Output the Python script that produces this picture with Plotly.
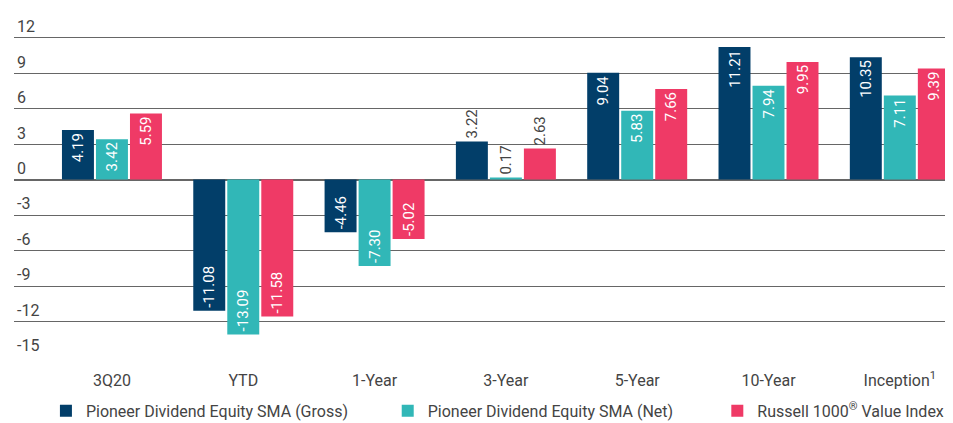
import plotly.graph_objects as go

categories = ["3Q20", "YTD", "1-Year", "3-Year", "5-Year", "10-Year", "Inception<sup>1</sup>"]
gross = [4.19, -11.08, -4.46, 3.22, 9.04, 11.21, 10.35]
net = [3.42, -13.09, -7.30, 0.17, 5.83, 7.94, 7.11]
russell = [5.59, -11.58, -5.02, 2.63, 7.66, 9.95, 9.39]
series_names = ["Pioneer Dividend Equity SMA (Gross)", "Pioneer Dividend Equity SMA (Net)",
                "Russell 1000<sup>®</sup> Value Index"]
colors = ["#023e69", "#31b7b7", "#ef3a66"]
ytick_vals = [12, 9, 6, 3, 0, -3, -6, -9, -12, -15]
outside_cats = {"3-Year"}

FONT = "Roboto, Arial, sans-serif"
GREY = "#444444"

legend_ids = ["legend", "legend2", "legend3"]
legend_x = [0.034, 0.398, 0.749]

fig = go.Figure()
for name, vals, col, lid in zip(series_names, [gross, net, russell], colors, legend_ids):
    pos = ["outside" if c in outside_cats else "inside" for c in categories]
    fig.add_trace(go.Bar(
        x=categories, y=vals, name=name, marker=dict(color=col, line=dict(width=0)),
        text=[f"{v:.2f}" for v in vals], textposition=pos, textangle=-90,
        insidetextanchor="end",
        insidetextfont=dict(color="white", size=15, family=FONT),
        outsidetextfont=dict(color=GREY, size=15, family=FONT),
        cliponaxis=False, hoverinfo="skip", legend=lid,
    ))

leg_common = dict(orientation="h", xanchor="left", y=-0.157, yanchor="middle",
                  font=dict(size=16, color=GREY, family=FONT), bgcolor="rgba(0,0,0,0)",
                  itemwidth=30)
fig.update_layout(
    width=945, height=415,
    margin=dict(l=6, r=0, t=6, b=66, autoexpand=False),
    plot_bgcolor="white", paper_bgcolor="white",
    barmode="group", bargap=0.223, bargroupgap=0.06,
    font=dict(family=FONT, color=GREY, size=15),
    showlegend=True,
    legend=dict(x=legend_x[0], **leg_common),
    legend2=dict(x=legend_x[1], **leg_common),
    legend3=dict(x=legend_x[2], **leg_common),
)
fig.update_xaxes(type="category", range=[-0.746, 6.405], showgrid=False, showline=False,
                 ticks="", tickfont=dict(size=16, color=GREY), ticklabelstandoff=12)
fig.update_yaxes(range=[-15, 14], tickvals=ytick_vals, ticktext=[str(v) for v in ytick_vals],
                 showgrid=True, gridcolor="#666666", gridwidth=1,
                 zeroline=True, zerolinecolor="#666666", zerolinewidth=2,
                 ticklabelposition="inside top", tickfont=dict(size=16, color=GREY),
                 showline=False, ticks="")

fig.write_html("out.html")
